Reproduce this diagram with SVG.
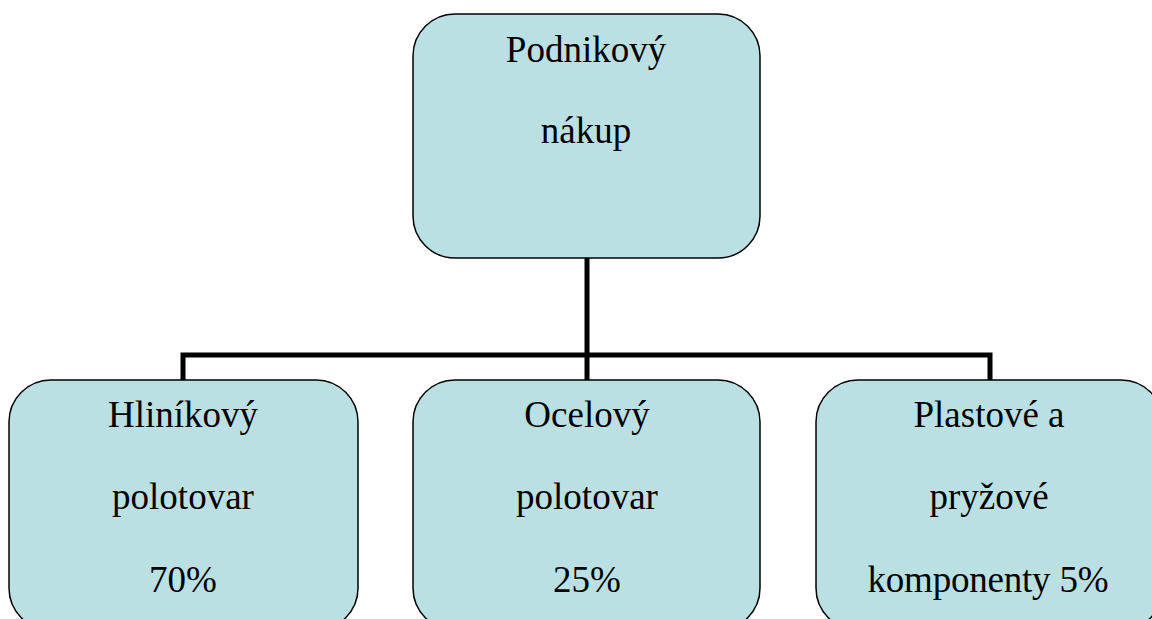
<svg xmlns="http://www.w3.org/2000/svg" width="1152" height="619" viewBox="0 0 1152 619">
<style>
.box{fill:#BBE0E3;stroke:#000;stroke-width:1.5}
.t{font-family:"Liberation Serif","Times New Roman",serif;font-size:37px;fill:#000;text-anchor:middle}
.c{fill:none;stroke:#000;stroke-width:5}
</style>
<rect width="1152" height="619" fill="#fff"/>
<g id="connectors">
<path class="c" d="M587,258 V355"/>
<path class="c" d="M183,380 V355 H990 V380"/>
<path class="c" d="M587,355 V380"/>
</g>
<g id="n0">
<rect class="box" x="413" y="14" width="347" height="244" rx="42"/>
<text class="t" x="586" y="62">Podnikový</text>
<text class="t" x="586" y="143">nákup</text>
</g>
<g id="n1">
<rect class="box" x="9" y="380" width="349" height="250" rx="42"/>
<text class="t" x="183" y="427">Hliníkový</text>
<text class="t" x="183" y="509">polotovar</text>
<text class="t" x="183" y="592">70%</text>
</g>
<g id="n2">
<rect class="box" x="413" y="380" width="347" height="250" rx="42"/>
<text class="t" x="587" y="427">Ocelový</text>
<text class="t" x="587" y="509">polotovar</text>
<text class="t" x="587" y="592">25%</text>
</g>
<g id="n3">
<rect class="box" x="816" y="380" width="347" height="250" rx="42"/>
<text class="t" x="989" y="427">Plastové a</text>
<text class="t" x="989" y="509">pryžové</text>
<text class="t" x="988" y="592" textLength="241" lengthAdjust="spacing">komponenty 5%</text>
</g>
</svg>
